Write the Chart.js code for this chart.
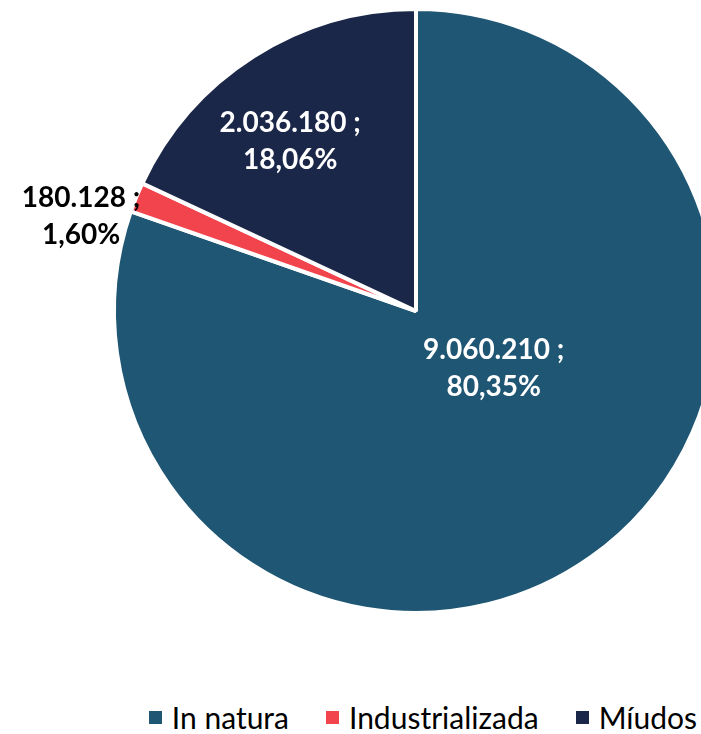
<!DOCTYPE html>
<html lang="pt">
  <head>
    <meta charset="UTF-8" />
    <title>Pie</title>
    <style>
      html, body { margin: 0; padding: 0; background: #fff; }
      #wrap { position: relative; width: 701px; height: 734px; overflow: hidden; }
      #box { position: absolute; left: 0; top: 0; width: 832px; height: 622px; }
      #legend {
        position: absolute; top: 699px; right: 4px;
        display: flex; align-items: center;
        font-family: Lato, sans-serif; font-size: 30px; color: #000;
      }
      #legend span.item { display: flex; align-items: center; margin-left: 37px; }
      #legend span.sw { width: 13px; height: 13px; margin-right: 10px; display: inline-block; }
    </style>
  </head>
  <body>
    <div id="wrap">
      <div id="box"><canvas id="pieChart"></canvas></div>
      <div id="legend"></div>
    </div>

    <script src="https://cdn.jsdelivr.net/npm/chart.js@4/dist/chart.umd.min.js"></script>
    <script>
      const categories = ["In natura", "Industrializada", "Míudos"];
      const values = [9060210, 180128, 2036180];
      const colors = ["#1F5673", "#F2444C", "#1A2748"];

      // label placement: angle from the centre (deg, clockwise from top), distance as share of radius
      const labelAngle = [126.5, 285.7, 323.5];
      const labelDist = [0.32, 1.152, 0.70];
      const labelColor = ["#fff", "#000", "#fff"];

      const total = values.reduce((a, b) => a + b, 0);
      const fmtNum = (v) => v.toLocaleString("de-DE");
      const fmtPct = (v) => (v / total * 100).toFixed(2).replace(".", ",") + "%";

      const sliceLabels = {
        id: "sliceLabels",
        afterDatasetsDraw(chart) {
          const ctx = chart.ctx;
          const arcs = chart.getDatasetMeta(0).data;
          ctx.save();
          ctx.font = "bold 28px Lato";
          ctx.textAlign = "center";
          ctx.textBaseline = "middle";
          arcs.forEach((arc, i) => {
            const a = (labelAngle[i] - 90) * Math.PI / 180;
            const r = arc.outerRadius * labelDist[i];
            const x = arc.x + Math.cos(a) * r;
            const y = arc.y + Math.sin(a) * r;
            ctx.fillStyle = labelColor[i];
            ctx.fillText(fmtNum(values[i]) + " ;", x, y - 18.5);
            ctx.fillText(fmtPct(values[i]), x, y + 18.5);
          });
          ctx.restore();
        },
      };

      const chart = new Chart("pieChart", {
        type: "pie",
        data: {
          labels: categories,
          datasets: [
            {
              data: values,
              backgroundColor: colors,
              borderColor: "#fff",
              borderWidth: 4,
            },
          ],
        },
        options: {
          responsive: true,
          maintainAspectRatio: false,
          animation: false,
          layout: { padding: { top: 7, bottom: 7 } },
          plugins: { legend: { display: false }, tooltip: { enabled: false } },
        },
        plugins: [sliceLabels],
      });

      const legend = document.getElementById("legend");
      chart.options.plugins.legend.labels.generateLabels(chart).forEach((it) => {
        const item = document.createElement("span");
        item.className = "item";
        const sw = document.createElement("span");
        sw.className = "sw";
        sw.style.background = it.fillStyle;
        item.appendChild(sw);
        item.appendChild(document.createTextNode(it.text));
        legend.appendChild(item);
      });
    </script>
  </body>
</html>
